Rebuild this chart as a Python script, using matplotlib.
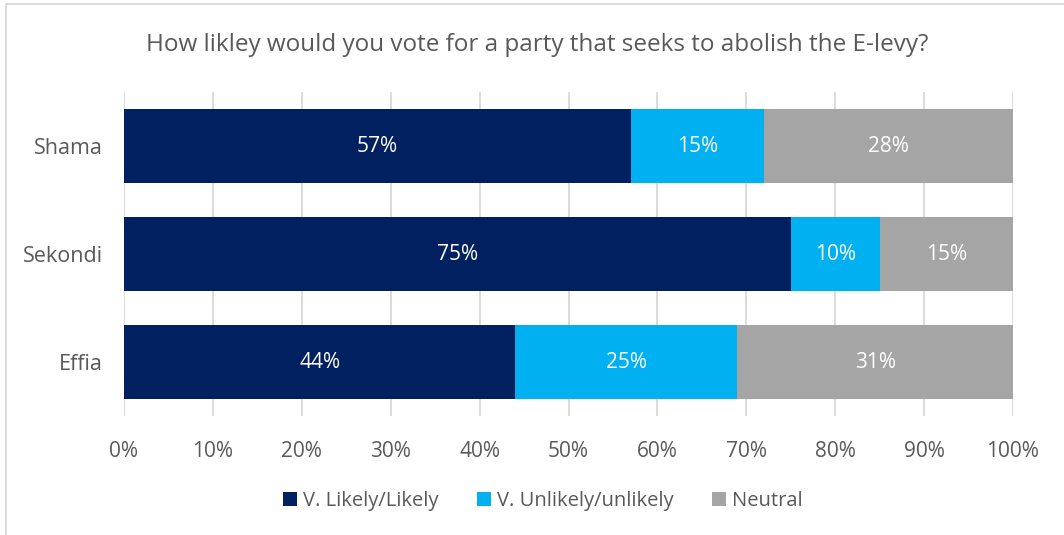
import matplotlib
matplotlib.use("Agg")
import matplotlib.pyplot as plt
from matplotlib.patches import Rectangle
import numpy as np

categories = ["Effia", "Sekondi", "Shama"]
likely = [44, 75, 57]
unlikely = [25, 10, 15]
neutral = [31, 15, 28]
series_names = ["V. Likely/Likely", "V. Unlikely/unlikely", "Neutral"]
colors = ["#002060", "#00B0F0", "#A5A5A5"]
xticks = list(range(0, 101, 10))
title = "How likley would you vote for a party that seeks to abolish the E-levy?"

plt.rcParams['font.family'] = ['Open Sans', 'DejaVu Sans']
txt = "#595959"

fig = plt.figure(figsize=(10.64, 5.35), dpi=100)
ax = fig.add_axes([124/1064, 1-416/535, (1013-124)/1064, (416-92)/535])

y = np.arange(len(categories))
left = np.zeros(len(categories))
for vals, name, c in zip([likely, unlikely, neutral], series_names, colors):
    ax.barh(y, vals, left=left, height=0.69, color=c, label=name, zorder=3)
    for yi, l, v in zip(y, left, vals):
        ax.text(l + v/2, yi, f"{v}%", ha="center", va="center", color="white", fontsize=15, zorder=4)
    left = left + np.array(vals)

ax.set_xlim(0, 100)
ax.set_ylim(-0.5, 2.5)
ax.set_xticks(xticks)
ax.set_xticklabels([f"{t}%" for t in xticks], color=txt, fontsize=15)
ax.set_yticks(y)
ax.set_yticklabels(categories, color=txt, fontsize=15.5)
ax.tick_params(axis="x", length=0, pad=18)
ax.tick_params(axis="y", length=0, pad=15)
ax.grid(axis="x", color="#D9D9D9", linewidth=1.3, zorder=0)
for s in ax.spines.values():
    s.set_visible(False)

fig.text(537/1064, 1-45/535, title, ha="center", va="center", color=txt, fontsize=17.5)

leg = fig.legend(loc="center", bbox_to_anchor=(543/1064, 1-501/535), ncol=3, frameon=False,
                 fontsize=14.5, handlelength=0.7, handleheight=0.7, handletextpad=0.3, columnspacing=1.9,
                 labelcolor=txt)

fig.patches.append(Rectangle((6/1064, -0.1), 1.2, 1-4/535+0.1, transform=fig.transFigure,
                             fill=False, edgecolor="#D9D9D9", linewidth=1.3))

fig.savefig("out.png", dpi=100)
